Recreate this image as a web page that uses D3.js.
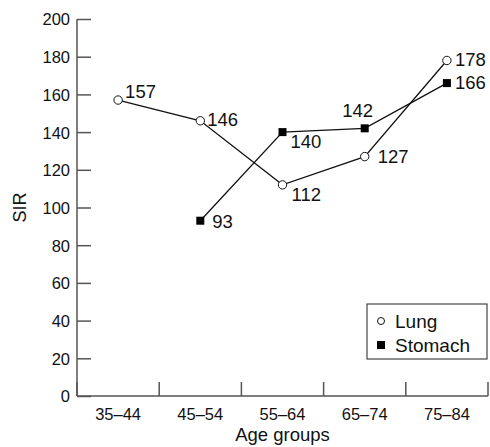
<!DOCTYPE html>
<html>
<head>
<meta charset="utf-8">
<script src="https://cdn.jsdelivr.net/npm/d3@7"></script>
<style>
  body { margin: 0; background: #fff; }
  svg { display: block; font-family: "Liberation Sans", Arial, sans-serif; }
  .axis path, .axis line { stroke: #555; stroke-width: 1.5; }
  .axis text { fill: #111; font-size: 16.5px; }
</style>
</head>
<body>
<div id="chart"></div>
<script>
var ageGroups = ["35–44", "45–54", "55–64", "65–74", "75–84"];
var lungValues = [157, 146, 112, 127, 178];
var stomachValues = [null, 93, 140, 142, 166];
var yTicks = [0, 20, 40, 60, 80, 100, 120, 140, 160, 180, 200];

// label nudges (dx, dy, anchor) relative to each point
var lungLabelPos = [[7, -2, "start"], [7, 5, "start"], [9, 16, "start"], [13, 6, "start"], [8, 6, "start"]];
var stomachLabelPos = [null, [12, 7, "start"], [8, 16, "start"], [-7, -11, "middle"], [8, 6, "start"]];

var svgWidth = 490;
var svgHeight = 447;
var margin = { top: 19, right: 2, bottom: 51, left: 77 };
var width = svgWidth - margin.left - margin.right;
var height = svgHeight - margin.top - margin.bottom;

var svg = d3.select("#chart")
  .append("svg")
  .attr("width", svgWidth)
  .attr("height", svgHeight);

var chartGroup = svg.append("g")
  .attr("transform", `translate(${margin.left}, ${margin.top})`);

var xScale = d3.scaleBand().domain(ageGroups).range([0, width]);
var yScale = d3.scaleLinear().domain([0, 200]).range([height, 0]);

// x axis: ticks at band boundaries pointing up
var xAxis = chartGroup.append("g")
  .attr("class", "axis")
  .attr("transform", `translate(0, ${height})`);
xAxis.append("line")
  .attr("x1", 0).attr("x2", width)
  .attr("y1", 0).attr("y2", 0);
var bounds = ageGroups.map(d => xScale(d)).concat([xScale.range()[1]]);
xAxis.selectAll(".btick")
  .data(bounds)
  .enter()
  .append("line")
  .attr("x1", d => d).attr("x2", d => d)
  .attr("y1", 0).attr("y2", -14);
xAxis.selectAll("text")
  .data(ageGroups)
  .enter()
  .append("text")
  .attr("x", d => xScale(d) + xScale.bandwidth() / 2)
  .attr("y", 24)
  .attr("text-anchor", "middle")
  .text(d => d);

// y axis: ticks pointing right
var yAxis = chartGroup.append("g")
  .attr("class", "axis")
  .call(d3.axisRight(yScale).tickValues(yTicks).tickSize(14).tickSizeOuter(0));
yAxis.select(".domain").remove();
yAxis.append("line")
  .attr("x1", 0).attr("x2", 0)
  .attr("y1", 0).attr("y2", height);
yAxis.selectAll(".tick text")
  .attr("x", -7)
  .attr("dy", "0.36em")
  .attr("text-anchor", "end")
  .style("font-size", "16.5px");

// axis titles
chartGroup.append("text")
  .attr("x", xScale("55–64") + xScale.bandwidth() / 2)
  .attr("y", height + 45)
  .attr("text-anchor", "middle")
  .style("font-size", "18.5px")
  .attr("fill", "#111")
  .text("Age groups");

chartGroup.append("text")
  .attr("transform", `translate(${-51}, ${yScale(100)}) rotate(-90)`)
  .attr("text-anchor", "middle")
  .style("font-size", "18px")
  .attr("fill", "#111")
  .text("SIR");

var cx = i => xScale(ageGroups[i]) + xScale.bandwidth() / 2;

var line = d3.line()
  .defined(d => d.v !== null)
  .x(d => cx(d.i))
  .y(d => yScale(d.v));

var lungData = lungValues.map((v, i) => ({ v: v, i: i }));
var stomachData = stomachValues.map((v, i) => ({ v: v, i: i }));

[lungData, stomachData].forEach(function(series) {
  chartGroup.append("path")
    .datum(series)
    .attr("fill", "none")
    .attr("stroke", "#111")
    .attr("stroke-width", 1.3)
    .attr("d", line);
});

chartGroup.selectAll(".lung")
  .data(lungData)
  .enter()
  .append("circle")
  .attr("cx", d => cx(d.i))
  .attr("cy", d => yScale(d.v))
  .attr("r", 4.2)
  .attr("fill", "#fff")
  .attr("stroke", "#111")
  .attr("stroke-width", 1);

chartGroup.selectAll(".stomach")
  .data(stomachData.filter(d => d.v !== null))
  .enter()
  .append("rect")
  .attr("x", d => cx(d.i) - 4)
  .attr("y", d => yScale(d.v) - 4)
  .attr("width", 8)
  .attr("height", 8)
  .attr("fill", "#000");

chartGroup.selectAll(".lungLabel")
  .data(lungData)
  .enter()
  .append("text")
  .attr("x", d => cx(d.i) + lungLabelPos[d.i][0])
  .attr("y", d => yScale(d.v) + lungLabelPos[d.i][1])
  .attr("text-anchor", d => lungLabelPos[d.i][2])
  .style("font-size", "18.5px")
  .attr("fill", "#111")
  .text(d => d.v);

chartGroup.selectAll(".stomachLabel")
  .data(stomachData.filter(d => d.v !== null))
  .enter()
  .append("text")
  .attr("x", d => cx(d.i) + stomachLabelPos[d.i][0])
  .attr("y", d => yScale(d.v) + stomachLabelPos[d.i][1])
  .attr("text-anchor", d => stomachLabelPos[d.i][2])
  .style("font-size", "18.5px")
  .attr("fill", "#111")
  .text(d => d.v);

// legend
var legend = svg.append("g").attr("transform", "translate(367, 304)");
legend.append("rect")
  .attr("width", 120).attr("height", 55)
  .attr("fill", "#fff")
  .attr("stroke", "#444")
  .attr("stroke-width", 1.2);
legend.append("circle")
  .attr("cx", 14).attr("cy", 17).attr("r", 3.5)
  .attr("fill", "#fff").attr("stroke", "#111");
legend.append("rect")
  .attr("x", 10).attr("y", 37).attr("width", 8).attr("height", 8)
  .attr("fill", "#000");
legend.append("text")
  .attr("x", 28).attr("y", 24)
  .style("font-size", "19px").attr("fill", "#111")
  .text("Lung");
legend.append("text")
  .attr("x", 28).attr("y", 48)
  .style("font-size", "19px").attr("fill", "#111")
  .text("Stomach");
</script>
</body>
</html>
